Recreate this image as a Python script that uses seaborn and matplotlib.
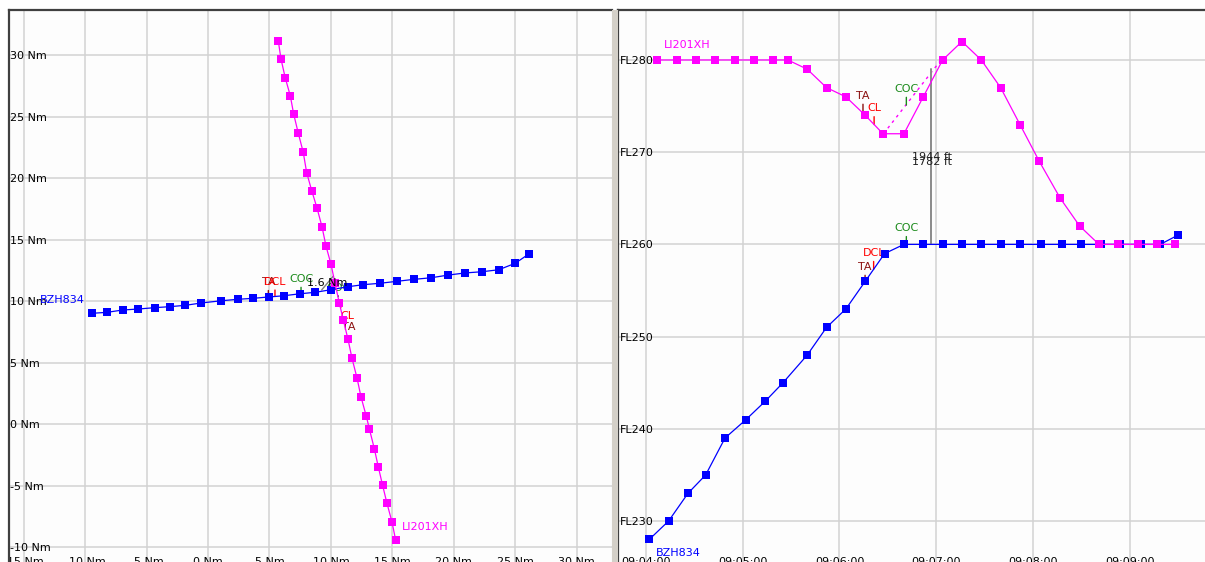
import matplotlib
matplotlib.use("Agg")
import matplotlib.pyplot as plt
from matplotlib.patches import Rectangle
import pandas as pd
import seaborn as sns

# ---- data ----
# left panel: horizontal tracks (Nm)
bzh_x = [-9.46, -8.22, -6.94, -5.67, -4.34, -3.12, -1.85, -0.55, 1.06, 2.42, 3.69, 4.94, 6.18, 7.49,
         8.73, 10.01, 11.37, 12.64, 13.97, 15.35, 16.74, 18.14, 19.55, 20.89, 22.27, 23.65, 25.00, 26.14]
bzh_y = [9.00, 9.08, 9.27, 9.35, 9.46, 9.54, 9.65, 9.84, 10.02, 10.14, 10.22, 10.33, 10.43, 10.59,
         10.71, 10.92, 11.16, 11.33, 11.44, 11.60, 11.76, 11.89, 12.11, 12.28, 12.38, 12.54, 13.07, 13.85]
li_x = [15.26, 14.97, 14.55, 14.20, 13.85, 13.53, 13.14, 12.88, 12.45, 12.12, 11.72, 11.39, 11.01, 10.68,
        10.33, 10.01, 9.60, 9.28, 8.87, 8.44, 8.03, 7.75, 7.35, 6.97, 6.70, 6.29, 5.94, 5.72]
li_y = [-9.40, -7.96, -6.40, -4.96, -3.46, -1.99, -0.44, 0.63, 2.20, 3.76, 5.33, 6.89, 8.46, 9.86,
        11.46, 12.98, 14.47, 16.02, 17.56, 18.97, 20.43, 22.09, 23.63, 25.20, 26.67, 28.13, 29.67, 31.14]

# right panel: vertical profiles (seconds after 09:04:00, flight level)
li_t = [7, 19, 31, 43, 55, 67, 79, 88, 100, 112, 124, 136, 147, 160, 172, 184, 196, 208, 220, 232,
        244, 257, 269, 281, 293, 305, 317, 328]
li_fl = [280, 280, 280, 280, 280, 280, 280, 280, 279, 277, 276, 274, 272, 272, 276, 280, 282, 280, 277, 273,
         269, 265, 262, 260, 260, 260, 260, 260]
bzh_t = [2, 14, 26, 37, 49, 62, 74, 85, 100, 112, 124, 136, 148, 160, 172, 184, 196, 208, 220, 232,
         245, 258, 270, 282, 294, 307, 319, 330]
bzh_fl = [228, 230, 233, 235, 239, 241, 243, 245, 248, 251, 253, 256, 259, 260, 260, 260, 260, 260, 260, 260,
          260, 260, 260, 260, 260, 260, 260, 261]

# predicted climb of LI201XH and min separation
pred_t = [150, 183]
pred_fl = [272.6, 280]
sep_t = [177, 177]
sep_fl = [260, 279]
sep_labels = ["1944 ft", "1782 ft"]
cpa_x = [9.25, 10.2]
cpa_y = [10.9, 12.03]
cpa_label = "1.6 Nm"

# events (name, x, y on track)
ev_left_bzh = [("TA", 4.91, 10.33), ("DCL", 5.45, 10.37), ("COC", 7.57, 10.59)]
ev_left_li = [("COC", 10.6, 10.35), ("CL", 10.8, 9.65), ("TA", 10.9, 8.75)]
ev_right_li = [("TA", 134.6, 274.35), ("CL", 141.5, 273.0), ("COC", 161.5, 275.1)]
ev_right_bzh = [("TA", 135.9, 256.4), ("DCL", 141.2, 257.3), ("COC", 161.5, 260.0)]

nm_ticks = [-15, -10, -5, 0, 5, 10, 15, 20, 25, 30]
nm_y_ticks = [-10, -5, 0, 5, 10, 15, 20, 25, 30]
time_ticks = [0, 60, 120, 180, 240, 300]
time_labels = ["09:04:00", "09:05:00", "09:06:00", "09:07:00", "09:08:00", "09:09:00"]
fl_ticks = [230, 240, 250, 260, 270, 280]

MAG = "#ff00ff"
BLUE = "#0000ff"
EV_COL = {"TA": "#8b1010", "CL": "#ff0000", "DCL": "#ff0000", "COC": "#1a8a1a"}

sns.set_style("whitegrid")
plt.rcParams["font.family"] = ["DejaVu Sans"]
plt.rcParams["font.size"] = 8

W, H = 1205, 562
fig = plt.figure(figsize=(W / 100, H / 100), dpi=100)
fig.patch.set_facecolor("white")


def px_box(x0, x1, top, bottom):
    return [x0 / W, 1 - bottom / H, (x1 - x0) / W, (bottom - top) / H]


ax1 = fig.add_axes(px_box(9, 612, 10, 572))
ax2 = fig.add_axes(px_box(618, 1215, 10, 572))

# splitter between the two views
fig.add_artist(Rectangle((612 / W, 0), 6 / W, 1 - 10 / H, transform=fig.transFigure,
                         facecolor="#d4d0c8", edgecolor="none"))


def style_axes(ax):
    ax.set_facecolor("#fdfdfd")
    ax.grid(True, color="#d2d2d2", linewidth=1.1)
    ax.set_axisbelow(True)
    for side in ["top", "left"]:
        ax.spines[side].set_color("#404040")
        ax.spines[side].set_linewidth(1.6)
    ax.spines["right"].set_color("#c8c8c8")
    ax.spines["bottom"].set_visible(False)
    ax.tick_params(axis="both", length=0, labelsize=8, colors="black")
    ax.tick_params(axis="x", pad=-11)
    ax.tick_params(axis="y", pad=-1)
    ax.set_xlabel("")
    ax.set_ylabel("")


def track(ax, x, y, color):
    df = pd.DataFrame({"x": x, "y": y})
    sns.lineplot(data=df, x="x", y="y", ax=ax, sort=False, estimator=None, color=color,
                 linewidth=0.9, marker="s", markersize=5.5, markeredgewidth=0, zorder=3)


def event(ax, name, x, y, dy=8, below=False):
    c = EV_COL[name]
    if below:
        ax.annotate(name, xy=(x, y), xytext=(0, -dy), textcoords="offset points", ha="left", va="top",
                    color=c, fontsize=8, zorder=2,
                    arrowprops=dict(arrowstyle="-", color=c, lw=1, shrinkA=0, shrinkB=0, relpos=(0, 1)))
    else:
        ax.annotate(name, xy=(x, y), xytext=(0, dy), textcoords="offset points", ha="center", va="bottom",
                    color=c, fontsize=8, zorder=2,
                    arrowprops=dict(arrowstyle="-", color=c, lw=1, shrinkA=0, shrinkB=0))


# ---- left: plan view ----
track(ax1, bzh_x, bzh_y, BLUE)
track(ax1, li_x, li_y, MAG)
ax1.plot(cpa_x, cpa_y, color="#808080", lw=1, zorder=2)
ax1.text(8.08, 11.44, cpa_label, ha="left", va="center", color="black", fontsize=8, zorder=4)
for name, x, y in ev_left_bzh:
    event(ax1, name, x, y, dy=7)
for name, x, y in ev_left_li:
    event(ax1, name, x, y, dy=4 if name != "COC" else 3, below=(name != "COC"))
ax1.annotate("BZH834", xy=(bzh_x[0], bzh_y[0]), xytext=(-4.8, 9.6), textcoords="offset points",
             ha="right", va="center", color=BLUE, fontsize=8)
ax1.annotate("LI201XH", xy=(li_x[0], li_y[0]), xytext=(4.5, 8.9), textcoords="offset points",
             ha="left", va="center", color=MAG, fontsize=8)

ax1.set_xlim(-16.19, 32.87)
ax1.set_ylim(-12.03, 33.66)
ax1.set_xticks(nm_ticks, [f"{v} Nm" for v in nm_ticks])
ax1.set_yticks(nm_y_ticks, [f"{v} Nm" for v in nm_y_ticks], ha="left")
style_axes(ax1)

# ---- right: vertical view ----
track(ax2, bzh_t, bzh_fl, BLUE)
track(ax2, li_t, li_fl, MAG)
ax2.plot(pred_t, pred_fl, color=MAG, lw=1, ls=(0, (2, 3)), zorder=2)
ax2.plot(sep_t, sep_fl, color="#8a8a8a", lw=1.4, zorder=2)
ax2.text(177.5, 269.5, sep_labels[0], ha="center", va="center", color="#202020", fontsize=8, zorder=4)
ax2.text(177.5, 268.96, sep_labels[1], ha="center", va="center", color="#202020", fontsize=8, zorder=4)
for name, x, y in ev_right_li:
    event(ax2, name, x, y, dy=8)
for name, x, y in ev_right_bzh:
    event(ax2, name, x, y, dy=4 if name == "TA" else 8)
ax2.annotate("LI201XH", xy=(li_t[0], li_fl[0]), xytext=(4.6, 10.6), textcoords="offset points",
             ha="left", va="center", color=MAG, fontsize=8)
ax2.annotate("BZH834", xy=(bzh_t[0], bzh_fl[0]), xytext=(4.9, -9.6), textcoords="offset points",
             ha="left", va="center", color=BLUE, fontsize=8)

ax2.set_xlim(-17.4, 353)
ax2.set_ylim(224.47, 285.42)
ax2.set_xticks(time_ticks, time_labels)
ax2.set_yticks(fl_ticks, [f"FL{v}" for v in fl_ticks], ha="left")
style_axes(ax2)

fig.savefig("out.png", dpi=100)
